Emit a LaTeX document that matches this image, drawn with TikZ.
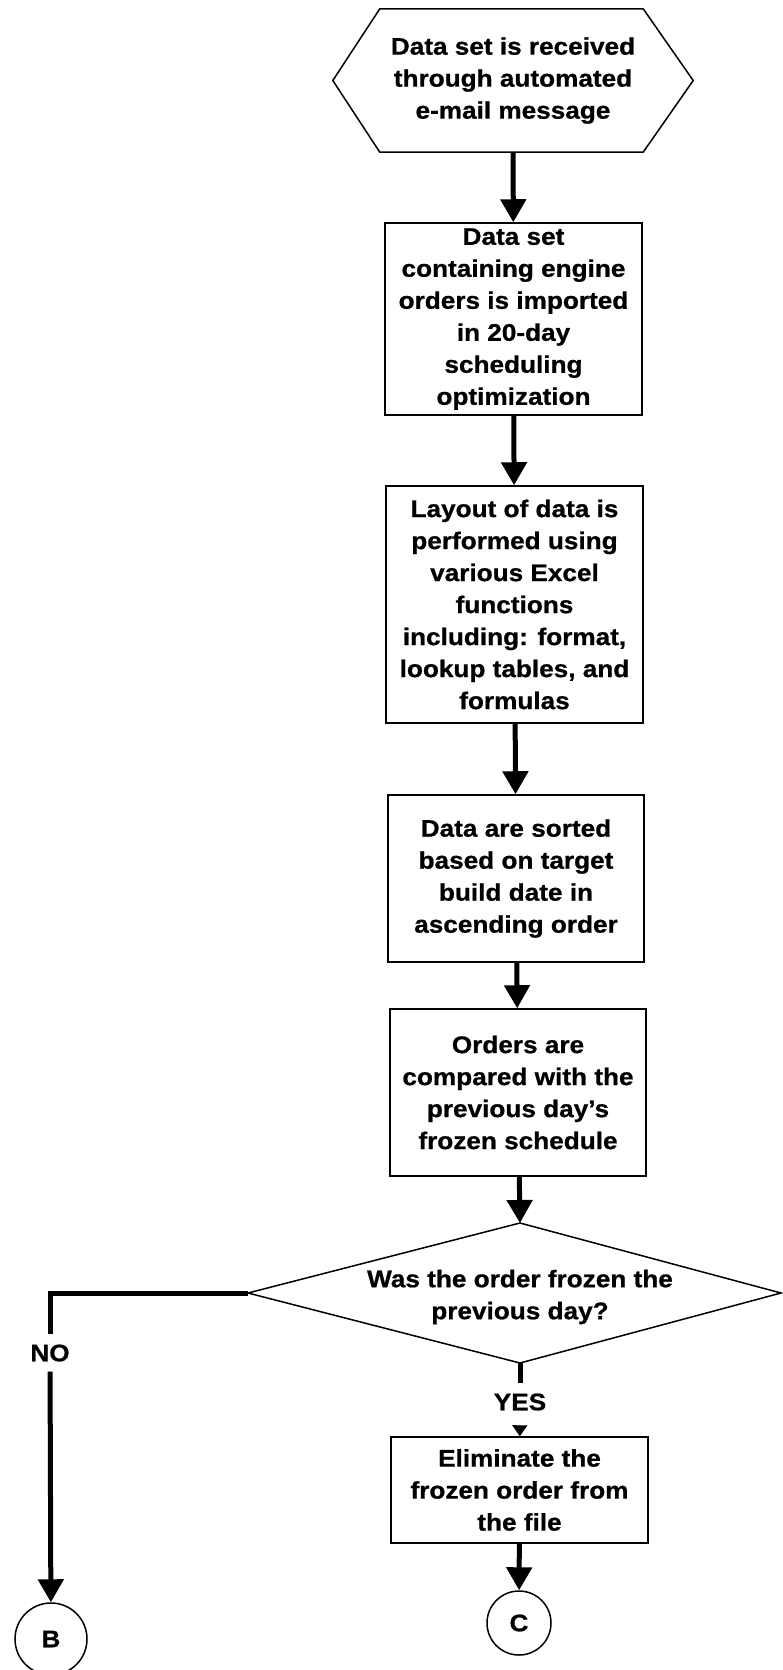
\documentclass[tikz,border=0pt]{standalone}
\usepackage{fontspec}
\newfontfamily\diagfont{Liberation Sans Bold}[FakeStretch=1.09, FakeBold=0.8]
\usetikzlibrary{arrows.meta}
\begin{document}
\begin{tikzpicture}[x=1pt,y=-1pt,
  txt/.style={font=\fontsize{24}{32}\selectfont\diagfont, align=center, inner sep=0pt, text=black},
  box/.style={txt, draw=black, line width=1.5pt},
  outline/.style={draw=black, line width=1.5pt, line join=miter},
  flow/.style={line width=5pt, -{Triangle[length=23pt,width=25pt]}},
  heavy/.style={line width=5pt},
  tinyarrow/.style={line width=1.5pt, -{Triangle[length=11pt,width=15pt]}},
  lbl/.style={txt, inner sep=10pt},
  conn/.style={txt, draw=black, line width=1.5pt, circle}]
\useasboundingbox (0,0) rectangle (783,1670);

% start hexagon
\node[txt, minimum width=360pt, minimum height=143pt] (hex) at (513,80.5)
  {Data set is received\\through automated\\e-mail message};
\draw[outline] (hex.west) -- ([xshift=47pt]hex.north west) -- ([xshift=-50pt]hex.north east)
  -- (hex.east) -- ([xshift=-50pt]hex.south east) -- ([xshift=47pt]hex.south west) -- cycle;

% process boxes
\node[box, minimum width=257pt, minimum height=192pt] (b1) at (513.5,319)
  {Data set\\containing engine\\orders is imported\\in 20-day\\scheduling\\optimization};
\node[box, minimum width=257pt, minimum height=237pt] (b2) at (514.5,604.5)
  {Layout of data is\\performed using\\various Excel\\functions\\including: format,\\lookup tables, and\\formulas};
\node[box, minimum width=256pt, minimum height=167pt] (b3) at (516,878.5)
  {Data are sorted\\based on target\\build date in\\ascending order};
\node[box, minimum width=256pt, minimum height=167pt] (b4) at (518,1092.5)
  {Orders are\\compared with the\\previous day’s\\frozen schedule};

% decision
\coordinate (dt) at (520,1223);
\coordinate (db) at (520,1363);
\coordinate (dl) at (248,1293);
\coordinate (dr) at (781,1293);
\draw[outline] (dt) -- (dr) -- (db) -- (dl) -- cycle;
\node[txt] (dec) at (520,1297) {Was the order frozen the\\previous day?};

\node[box, minimum width=257pt, minimum height=106pt] (b5) at (519.5,1490)
  {Eliminate the\\frozen order from\\the file};

% labels
\node[lbl] (no) at (50,1353) {NO};
\node[lbl] (yes) at (520,1402) {YES};

% connectors (off-page)
\node[conn, minimum size=72pt] (B) at (51,1639) {B};
\node[conn, minimum size=64pt] (C) at (519,1623) {C};

% arrows
\draw[flow] (hex) -- (b1);
\draw[flow] (b1) -- (b2);
\draw[flow] (b2) -- (b3);
\draw[flow] (b3) -- (b4);
\draw[flow] (b4) -- (dt);
\draw[heavy] (dl) -| (no);
\draw[flow] (no) -- (B);
\draw[heavy] (db) -- (yes);
\draw[tinyarrow, shorten <=5.5pt] (yes) -- (b5);
\draw[flow] (b5) -- (C);
\end{tikzpicture}
\end{document}
